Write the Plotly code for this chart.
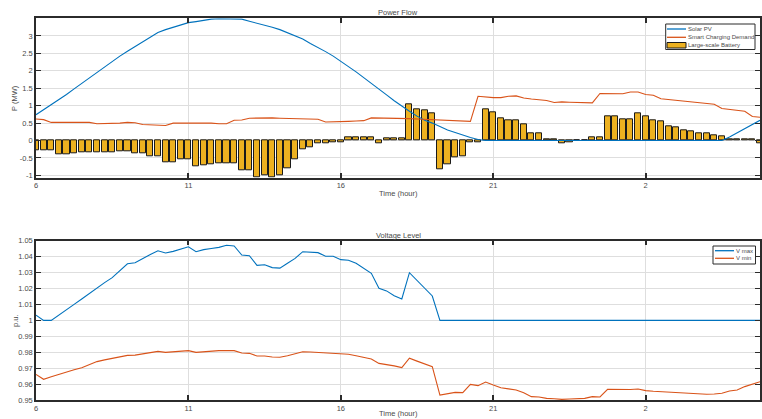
import plotly.graph_objects as go

# ---------------- data ----------------
time_hours = [6 + 0.25 * i for i in range(96)]  # 15-min steps from 06:00 to 05:45

solar_pv = [0.74, 0.88, 1.02, 1.17, 1.32, 1.48, 1.64, 1.80, 1.96, 2.12,
            2.27, 2.42, 2.56, 2.70, 2.84, 2.97, 3.10, 3.18, 3.25, 3.31,
            3.38, 3.41, 3.45, 3.48, 3.49, 3.49, 3.49, 3.48, 3.42, 3.37,
            3.31, 3.25, 3.18, 3.09, 3.00, 2.91, 2.78, 2.67, 2.55, 2.42,
            2.28, 2.12, 1.97, 1.81, 1.65, 1.48, 1.31, 1.14, 0.98, 0.84,
            0.70, 0.58, 0.50, 0.40, 0.30, 0.23, 0.15, 0.09, 0.03, 0.0,
            0.0, 0.0, 0.0, 0.0, 0.0, 0.0, 0.0, 0.0, 0.0, 0.0,
            0.0, 0.0, 0.0, 0.0, 0.0, 0.0, 0.0, 0.0, 0.0, 0.0,
            0.0, 0.0, 0.0, 0.0, 0.0, 0.0, 0.0, 0.0, 0.0, 0.0,
            0.0, 0.10, 0.22, 0.34, 0.46, 0.58]

smart_charging = [0.62, 0.60, 0.52, 0.52, 0.54, 0.54, 0.53, 0.52, 0.48, 0.48,
                  0.49, 0.50, 0.52, 0.51, 0.46, 0.45, 0.42, 0.43, 0.50, 0.50,
                  0.51, 0.52, 0.52, 0.50, 0.48, 0.48, 0.58, 0.59, 0.64, 0.65,
                  0.66, 0.65, 0.64, 0.63, 0.62, 0.62, 0.62, 0.61, 0.53, 0.53,
                  0.54, 0.55, 0.56, 0.57, 0.65, 0.65, 0.65, 0.65, 0.64, 0.63,
                  0.62, 0.61, 0.60, 0.60, 0.59, 0.58, 0.56, 0.55, 1.27, 1.24,
                  1.23, 1.23, 1.27, 1.28, 1.22, 1.19, 1.16, 1.15, 1.09, 1.11,
                  1.10, 1.10, 1.09, 1.08, 1.35, 1.34, 1.33, 1.34, 1.39, 1.39,
                  1.32, 1.30, 1.20, 1.18, 1.15, 1.14, 1.10, 1.08, 1.06, 1.04,
                  0.92, 0.90, 0.86, 0.84, 0.69, 0.67]

battery = [-0.28, -0.29, -0.29, -0.38, -0.40, -0.36, -0.35, -0.35, -0.34, -0.35,
           -0.33, -0.31, -0.30, -0.37, -0.37, -0.45, -0.46, -0.61, -0.61, -0.54,
           -0.53, -0.74, -0.71, -0.68, -0.66, -0.65, -0.64, -0.84, -0.85, -1.06,
           -1.00, -1.04, -1.01, -0.80, -0.53, -0.24, -0.18, -0.08, -0.07, -0.06,
           -0.05, 0.10, 0.10, 0.09, 0.08, -0.09, 0.07, 0.07, 0.06, 1.04,
           0.90, 0.87, 0.78, -0.83, -0.68, -0.49, -0.44, -0.04, -0.04, 0.89,
           0.82, 0.64, 0.59, 0.59, 0.47, 0.20, 0.20, 0.04, 0.04, -0.07,
           -0.05, 0.0, 0.0, 0.08, 0.08, 0.70, 0.69, 0.62, 0.62, 0.77,
           0.69, 0.58, 0.55, 0.41, 0.39, 0.28, 0.27, 0.21, 0.21, 0.14,
           0.13, 0.05, 0.04, 0.05, 0.04, -0.09]

v_max = [1.0033, 1.0000, 1.0000, 1.0035, 1.0068, 1.0100, 1.0134, 1.0170, 1.0205, 1.0237,
         1.0268, 1.0310, 1.0355, 1.0362, 1.0389, 1.0413, 1.0437, 1.0423, 1.0433, 1.0448,
         1.0462, 1.0431, 1.0444, 1.0451, 1.0458, 1.0471, 1.0467, 1.0410, 1.0406, 1.0345,
         1.0349, 1.0331, 1.0328, 1.0358, 1.0389, 1.0431, 1.0429, 1.0425, 1.0402, 1.0402,
         1.0381, 1.0377, 1.0358, 1.0326, 1.0295, 1.0201, 1.0185, 1.0155, 1.0134, 1.0299,
         1.0250, 1.0200, 1.0153, 1.0000, 1.0000, 1.0000, 1.0000, 1.0000, 1.0000, 1.0000,
         1.0000, 1.0000, 1.0000, 1.0000, 1.0000, 1.0000, 1.0000, 1.0000, 1.0000, 1.0000,
         1.0000, 1.0000, 1.0000, 1.0000, 1.0000, 1.0000, 1.0000, 1.0000, 1.0000, 1.0000,
         1.0000, 1.0000, 1.0000, 1.0000, 1.0000, 1.0000, 1.0000, 1.0000, 1.0000, 1.0000,
         1.0000, 1.0000, 1.0000, 1.0000, 1.0000, 1.0000]

v_min = [0.9661, 0.9630, 0.9646, 0.9662, 0.9678, 0.9690, 0.9703, 0.9722, 0.9741, 0.9752,
         0.9762, 0.9771, 0.9780, 0.9782, 0.9791, 0.9798, 0.9805, 0.9799, 0.9803, 0.9806,
         0.9810, 0.9799, 0.9803, 0.9806, 0.9810, 0.9810, 0.9810, 0.9795, 0.9793, 0.9776,
         0.9776, 0.9770, 0.9768, 0.9778, 0.9789, 0.9803, 0.9801, 0.9799, 0.9793, 0.9791,
         0.9789, 0.9787, 0.9778, 0.9766, 0.9757, 0.9730, 0.9724, 0.9714, 0.9703, 0.9762,
         0.9744, 0.9727, 0.9709, 0.9531, 0.9540, 0.9548, 0.9546, 0.9598, 0.9590, 0.9613,
         0.9594, 0.9577, 0.9570, 0.9563, 0.9546, 0.9521, 0.9519, 0.9510, 0.9508, 0.9504,
         0.9506, 0.9508, 0.9510, 0.9521, 0.9519, 0.9567, 0.9567, 0.9563, 0.9566, 0.9569,
         0.9559, 0.9555, 0.9552, 0.9550, 0.9548, 0.9541, 0.9538, 0.9537, 0.9536, 0.9538,
         0.9542, 0.9556, 0.9563, 0.9584, 0.9598, 0.9615]

x_tick_vals = [6, 11, 16, 21, 26]
x_tick_labels = ["6", "11", "16", "21", "2"]
p_tick_vals = [-1, -0.5, 0, 0.5, 1, 1.5, 2, 2.5, 3]
p_tick_labels = ["-1", "-0.5", "0", "0.5", "1", "1.5", "2", "2.5", "3"]
v_tick_vals = [0.95, 0.96, 0.97, 0.98, 0.99, 1.00, 1.01, 1.02, 1.03, 1.04, 1.05]
v_tick_labels = ["0.95", "0.96", "0.97", "0.98", "0.99", "1", "1.01", "1.02", "1.03", "1.04", "1.05"]

# ---------------- styling ----------------
W, H = 762, 419
FONT = "Liberation Sans, Arial, sans-serif"
TXT = "#4a4a4a"
GRID = "#dedede"
FRAME = "#2b2b2b"
BLUE = "#0072BD"
ORANGE = "#D95319"
GOLD = "#EDB120"

def px_x(p):
    return p / W

def px_y(p):
    return 1 - p / H

fig = go.Figure()

fig.add_trace(go.Scatter(x=time_hours, y=solar_pv, mode="lines", name="Solar PV",
                         line=dict(color=BLUE, width=1.1), xaxis="x", yaxis="y"))
fig.add_trace(go.Scatter(x=time_hours, y=smart_charging, mode="lines", name="Smart Charging Demand",
                         line=dict(color=ORANGE, width=1.1), xaxis="x", yaxis="y"))
fig.add_trace(go.Bar(x=time_hours, y=battery, width=0.2, name="Large-scale Battery",
                     marker=dict(color=GOLD, line=dict(color="#1a1a1a", width=1)),
                     xaxis="x", yaxis="y"))
fig.add_trace(go.Scatter(x=time_hours, y=v_max, mode="lines", name="V max",
                         line=dict(color=BLUE, width=1.1), xaxis="x2", yaxis="y2"))
fig.add_trace(go.Scatter(x=time_hours, y=v_min, mode="lines", name="V min",
                         line=dict(color=ORANGE, width=1.1), xaxis="x2", yaxis="y2"))

x_dom = [px_x(36), px_x(760)]
top_dom = [px_y(177.7), px_y(18.3)]
bot_dom = [px_y(400), px_y(240.7)]

def xax(anchor):
    return dict(domain=x_dom, anchor=anchor, range=[6, 29.75], tickmode="array",
                tickvals=x_tick_vals, ticktext=x_tick_labels, ticks="inside", ticklen=5,
                tickcolor=FRAME, tickwidth=1.5, mirror="ticks", showline=True, linecolor=FRAME,
                linewidth=1.5, showgrid=True, gridcolor=GRID, gridwidth=1, zeroline=False,
                automargin=False, tickfont=dict(family=FONT, size=7.5, color=TXT))

def yax(anchor, dom, rng, vals, labels):
    return dict(domain=dom, anchor=anchor, range=rng, tickmode="array", tickvals=vals,
                ticktext=labels, ticks="inside", ticklen=5, tickcolor=FRAME, tickwidth=1,
                mirror="ticks", showline=True, linecolor=FRAME, linewidth=1.5, showgrid=True,
                gridcolor=GRID, gridwidth=1, zeroline=False, automargin=False,
                tickfont=dict(family=FONT, size=7.5, color=TXT))

ann_font = dict(family=FONT, size=7.5, color=TXT)
leg_font = dict(family=FONT, size=6, color=TXT)

def ann(text, x, y, angle=0, font=ann_font, xanchor="center"):
    return dict(text=text, x=px_x(x), y=px_y(y), xref="paper", yref="paper", textangle=angle,
                showarrow=False, font=font, xanchor=xanchor, yanchor="middle")

annotations = [
    ann("Power Flow", 398, 12.5),
    ann("Time (hour)", 398, 193.5),
    ann("P (MW)", 15, 98, -90),
    ann("Voltage Level", 398, 235),
    ann("Time (hour)", 398, 413.5),
    ann("p.u.", 15, 321, -90),
    # legend texts
    ann("Solar PV", 686, 29, font=leg_font, xanchor="left"),
    ann("Smart Charging Demand", 686, 37.3, font=leg_font, xanchor="left"),
    ann("Large-scale Battery", 686, 45.3, font=leg_font, xanchor="left"),
    ann("V max", 734, 250.7, font=leg_font, xanchor="left"),
    ann("V min", 734, 258.3, font=leg_font, xanchor="left"),
]

def rect(x0, y0, x1, y1, fill="white", line=FRAME, width=1):
    return dict(type="rect", xref="paper", yref="paper", x0=px_x(x0), x1=px_x(x1),
                y0=px_y(y1), y1=px_y(y0), fillcolor=fill, line=dict(color=line, width=width),
                layer="above")

def hline(x0, x1, y, color):
    return dict(type="line", xref="paper", yref="paper", x0=px_x(x0), x1=px_x(x1),
                y0=px_y(y), y1=px_y(y), line=dict(color=color, width=1.3), layer="above")

shapes = [
    rect(665.7, 24, 755, 49.5),
    hline(667, 686, 29, BLUE),
    hline(667, 686, 37.3, ORANGE),
    rect(667, 42.5, 686, 48, fill=GOLD, line="#1a1a1a", width=1),
    rect(713, 246, 755.5, 264),
    hline(715, 734, 250.7, BLUE),
    hline(715, 734, 258.3, ORANGE),
]

fig.update_layout(
    width=W, height=H, margin=dict(l=0, r=0, t=0, b=0, autoexpand=False),
    paper_bgcolor="white", plot_bgcolor="white",
    font=dict(family=FONT, size=7.5, color=TXT),
    bargap=0, showlegend=False,
    xaxis=xax("y"), yaxis=yax("x", top_dom, [-1.065, 3.505], p_tick_vals, p_tick_labels),
    xaxis2=xax("y2"), yaxis2=yax("x2", bot_dom, [0.95, 1.05], v_tick_vals, v_tick_labels),
    annotations=annotations,
    shapes=shapes,
)

fig.write_html("out.html", config={"displayModeBar": False},
               post_script="document.body.style.margin='0';document.body.style.overflow='hidden';")
